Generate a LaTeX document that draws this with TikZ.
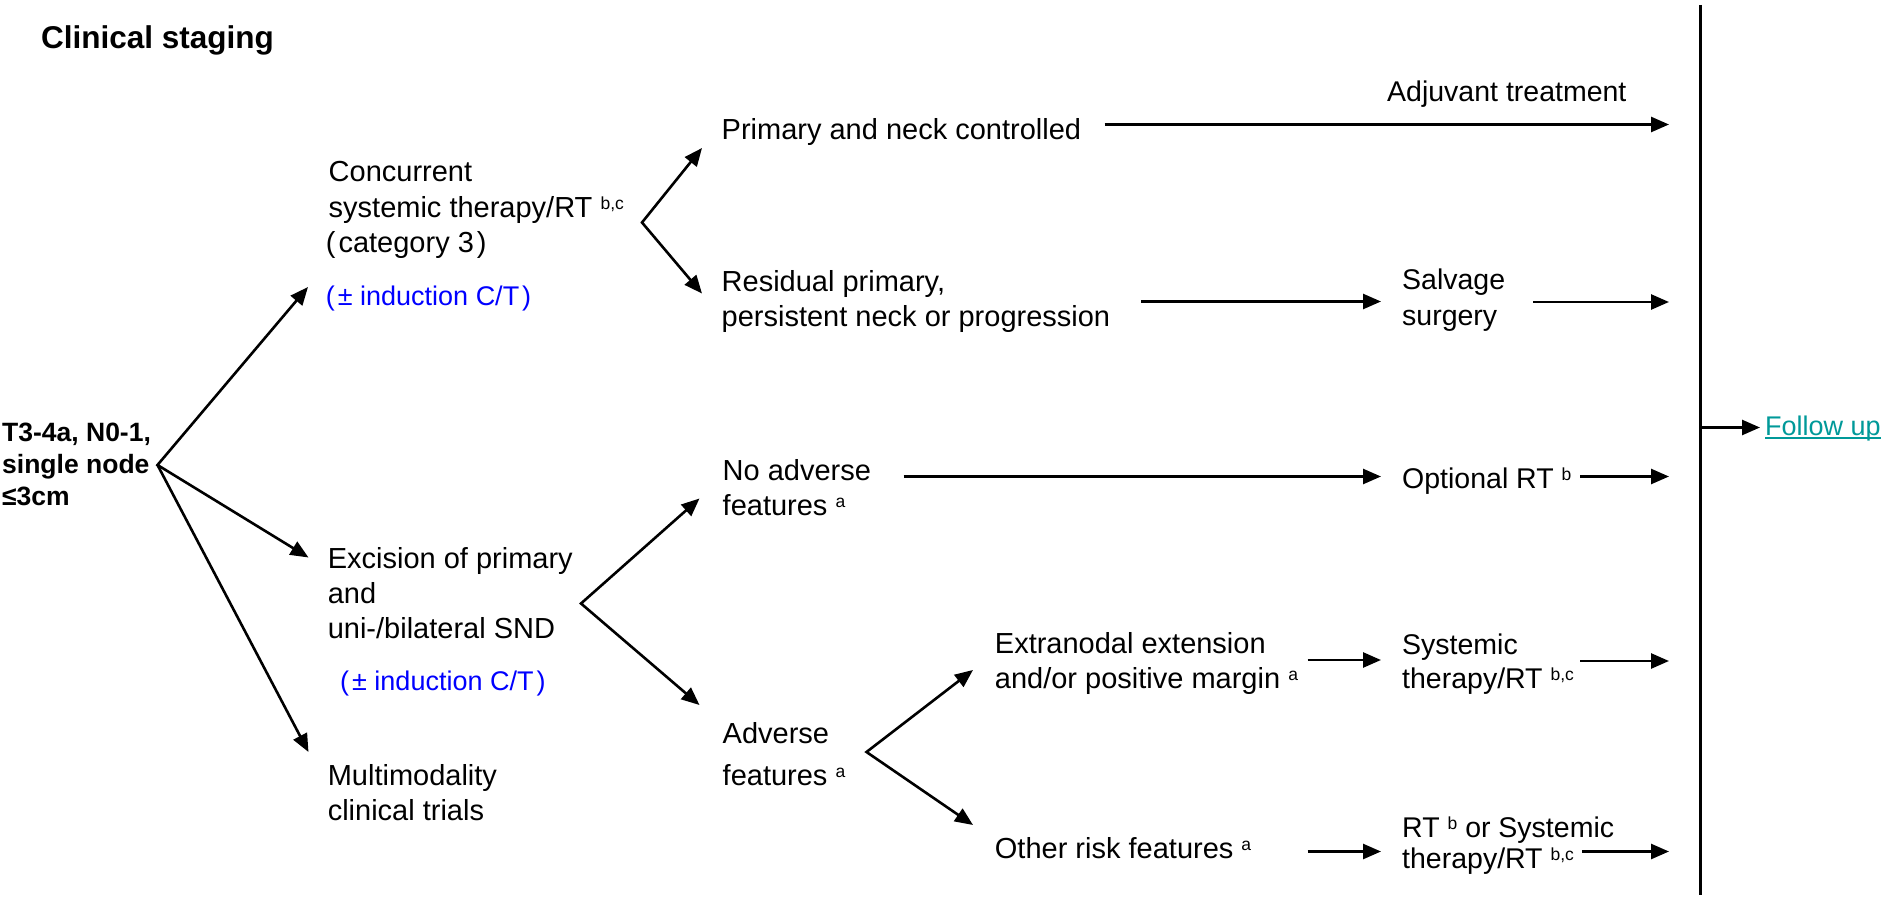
\documentclass[tikz,border=0pt]{standalone}
\usepackage{fontspec}
\setmainfont{Liberation Sans}
\usetikzlibrary{arrows.meta}

\definecolor{indblue}{RGB}{0,0,255}
\definecolor{futeal}{RGB}{0,153,153}

% raised footnote letters
\newcommand\sups[1]{\raisebox{8pt}{\fontsize{17.5}{17.5}\selectfont #1}}

\tikzset{
  txt/.style={anchor=base west, inner sep=0pt, font=\fontsize{29}{35}\selectfont},
  rtxt/.style={anchor=base west, inner sep=0pt, font=\fontsize{28.5}{34}\selectfont},
  btxt/.style={anchor=base west, inner sep=0pt, font=\bfseries\fontsize{26.5}{32}\selectfont},
  ttl/.style={anchor=base west, inner sep=0pt, font=\bfseries\fontsize{31.5}{36}\selectfont},
  ind/.style={anchor=base west, inner sep=0pt, text=indblue, font=\fontsize{27}{32}\selectfont},
  fu/.style={anchor=base west, inner sep=0pt, text=futeal, font=\fontsize{27}{32}\selectfont},
  arr/.style={line width=2.6pt, -{Triangle[length=18pt,width=15pt]}},
  fork/.style={line width=2.6pt, line join=miter,
    {Triangle[length=18pt,width=15pt]}-{Triangle[length=18pt,width=15pt]}},
}

\begin{document}
\begin{tikzpicture}[x=1pt,y=-1pt]
\useasboundingbox (0,0) rectangle (1888,901);

% ---- title
\node[ttl] (title) at (41,48.3) {Clinical staging};

% ---- entry condition
\node[btxt] (t3a) at (2,441.7) {T3-4a, N0-1,};
\node[btxt] (t3b) at (2,473.5) {single node};
\node[btxt] (t3c) at (2,505.5) {≤3cm};

% ---- first-level options
\node[txt] (conc1) at (328.5,181.7) {Concurrent};
\node[txt] (conc2) at (328.5,217.3) {systemic therapy/RT \sups{b,c}};
\node[txt] (conc3) at (325.7,252.3) {(\hspace{3pt}category 3\hspace{3pt})};
\node[ind] (concind) at (325.7,305.7) {(\hspace{3pt}± induction C/T\hspace{3pt})};

\node[txt] (exc1) at (327.6,568.3) {Excision of primary};
\node[txt] (exc2) at (327.6,603.3) {and};
\node[txt] (exc3) at (327.6,638.3) {uni-/bilateral SND};
\node[ind] (excind) at (340,690) {(\hspace{3pt}± induction C/T\hspace{3pt})};

\node[txt] (multi1) at (327.6,785) {Multimodality};
\node[txt] (multi2) at (327.6,820) {clinical trials};

% ---- outcomes
\node[txt] (prim) at (721.5,140) {Primary and neck controlled};
\node[txt] (res1) at (721.5,291.7) {Residual primary,};
\node[txt] (res2) at (721.5,326.7) {persistent neck or progression};
\node[txt] (noadv1) at (722.5,480.7) {No adverse};
\node[txt] (noadv2) at (722.5,515) {features \sups{a}};
\node[txt] (adv1) at (722.5,743.3) {Adverse};
\node[txt] (adv2) at (722.5,785) {features \sups{a}};
\node[txt] (ext1) at (994.7,653.3) {Extranodal extension};
\node[txt] (ext2) at (994.7,688.3) {and/or positive margin \sups{a}};
\node[txt] (other) at (994.7,858.3) {Other risk features \sups{a}};

% ---- further treatment
\node[rtxt] (adj) at (1387,101.7) {Adjuvant treatment};
\node[rtxt] (salv1) at (1402,290) {Salvage};
\node[rtxt] (salv2) at (1402,326) {surgery};
\node[rtxt] (opt) at (1402,488.3) {Optional RT \sups{b}};
\node[rtxt] (sys1) at (1402,654.3) {Systemic};
\node[rtxt] (sys2) at (1402,688) {therapy/RT \sups{b,c}};
\node[rtxt] (rtb1) at (1402,837) {RT \sups{b} or Systemic};
\node[rtxt] (rtb2) at (1402,868) {therapy/RT \sups{b,c}};

\node[fu] (follow) at (1765,435) {Follow up};
\draw[futeal, line width=1.6pt] ([yshift=-3pt]follow.base west) -- ([yshift=-3pt]follow.base east);

% ---- branch points and arrow ends
\coordinate (f0) at (157.5,465);
\coordinate (f1) at (642,222.5);
\coordinate (f2) at (581,603.5);
\coordinate (f3) at (866.5,752);
\coordinate (toconc) at (308,287);
\coordinate (toexc) at (308.5,557.5);
\coordinate (tomulti) at (308.5,752);
\coordinate (toprim) at (702,148);
\coordinate (tores) at (702,293.5);
\coordinate (tonoadv) at (699.5,498.5);
\coordinate (toadv) at (699.5,705);
\coordinate (toext) at (973,670);
\coordinate (toother) at (973,825);

\draw[fork] (toconc) -- (f0) -- (toexc);
\draw[arr] (f0) -- (tomulti);
\draw[fork] (toprim) -- (f1) -- (tores);
\draw[fork] (tonoadv) -- (f2) -- (toadv);
\draw[fork] (toext) -- (f3) -- (toother);

% ---- horizontal connectors
\coordinate (a1s) at (1104.5,124.5); \coordinate (a1e) at (1669,124.5);
\coordinate (a2s) at (1141,301.5);   \coordinate (a2e) at (1381,301.5);
\coordinate (a3s) at (1533,302);     \coordinate (a3e) at (1669,302);
\coordinate (a4s) at (903.5,476.5);  \coordinate (a4e) at (1381,476.5);
\coordinate (a5s) at (1580,476.5);   \coordinate (a5e) at (1669,476.5);
\coordinate (a6s) at (1307.5,660);   \coordinate (a6e) at (1381,660);
\coordinate (a7s) at (1580,661);     \coordinate (a7e) at (1669,661);
\coordinate (a8s) at (1307.5,851.5); \coordinate (a8e) at (1381,851.5);
\coordinate (a9s) at (1582,851.5);   \coordinate (a9e) at (1669,851.5);

\draw[arr] (a1s) -- (a1e);
\draw[arr] (a2s) -- (a2e);
\draw[arr] (a3s) -- (a3e);
\draw[arr] (a4s) -- (a4e);
\draw[arr] (a5s) -- (a5e);
\draw[arr] (a6s) -- (a6e);
\draw[arr] (a7s) -- (a7e);
\draw[arr] (a8s) -- (a8e);
\draw[arr] (a9s) -- (a9e);

% ---- collecting bar and follow-up
\coordinate (bartop) at (1700,5);
\coordinate (barbot) at (1700,895);
\coordinate (barmid) at (1700,427.5);
\coordinate (tofollow) at (1760,427.5);
\draw[line width=3pt] (bartop) -- (barbot);
\draw[arr] (barmid) -- (tofollow);
\end{tikzpicture}
\end{document}
